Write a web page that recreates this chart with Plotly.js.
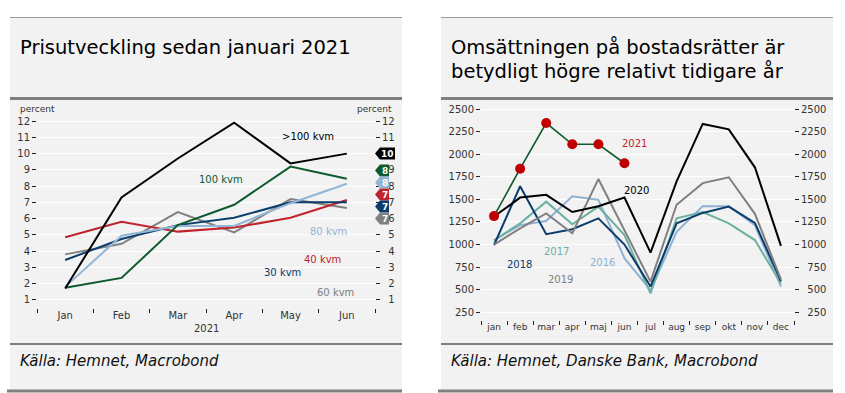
<!DOCTYPE html>
<html><head><meta charset="utf-8">
<script src="https://cdn.plot.ly/plotly-3.0.1.min.js"></script>
<style>html,body{margin:0;padding:0;background:#fff}#c{width:845px;height:393px}</style>
</head><body><div id="c"></div>
<script>
// ---- Left chart data (percent) ----
const monthsL = ['Jan','Feb','Mar','Apr','May','Jun'];
const seriesNamesL = ['>100 kvm','100 kvm','80 kvm','30 kvm','40 kvm','60 kvm'];
const gt100 = [1.7, 7.3, 9.7, 11.9, 9.4, 10.0];
const kvm100 = [1.75, 2.35, 5.6, 6.85, 9.2, 8.45];
const kvm80 = [1.8, 4.95, 5.55, 5.55, 6.95, 8.15];
const kvm30 = [3.45, 4.75, 5.6, 6.05, 7.0, 7.0];
const kvm40 = [4.85, 5.8, 5.2, 5.45, 6.05, 7.15];
const kvm60 = [3.8, 4.45, 6.4, 5.15, 7.2, 6.65];
const ticksL = [1,2,3,4,5,6,7,8,9,10,11,12];

// ---- Right chart data (number of sales) ----
const monthsR = ['jan','feb','mar','apr','maj','jun','jul','aug','sep','okt','nov','dec'];
const y2021 = [1315, 1840, 2345, 2110, 2110, 1900];
const y2020 = [1310, 1520, 1550, 1360, 1425, 1520, 910, 1700, 2335, 2275, 1855, 985];
const y2019 = [1000, 1180, 1345, 1125, 1725, 1150, 590, 1440, 1680, 1745, 1340, 615];
const y2018 = [995, 1645, 1115, 1170, 1290, 1000, 535, 1235, 1350, 1420, 1240, 595];
const y2017 = [1045, 1235, 1475, 1225, 1420, 1105, 460, 1290, 1360, 1235, 1050, 570];
const y2016 = [1050, 1215, 1260, 1535, 1495, 850, 495, 1140, 1425, 1425, 1215, 535];
const ticksR = [250,500,750,1000,1250,1500,1750,2000,2250,2500];

const W = 845, H = 393;
const X = p => p / W;
const Y = p => 1 - p / H;

const cL = {gt100:'#000000', kvm100:'#0e5a2c', kvm80:'#93b5d6', kvm30:'#0b3d6c', kvm40:'#c0232b', kvm60:'#808080'};
const cR = {y2021:'#0e5a2c', y2020:'#000000', y2019:'#808080', y2018:'#0b3d6c', y2017:'#6cb0a3', y2016:'#8fb1d4'};

const FONT = 'DejaVu Sans';
const traces = [];
function lineL(y, color, name){
  traces.push({type:'scatter', mode:'lines', x:monthsL, y:y, name:name, xaxis:'x', yaxis:'y',
    line:{color:color, width:2}, hoverinfo:'skip'});
}
lineL(kvm60, cL.kvm60, '60 kvm');
lineL(kvm40, cL.kvm40, '40 kvm');
lineL(kvm30, cL.kvm30, '30 kvm');
lineL(kvm80, cL.kvm80, '80 kvm');
lineL(kvm100, cL.kvm100, '100 kvm');
lineL(gt100, cL.gt100, '>100 kvm');

function lineR(y, color, name){
  traces.push({type:'scatter', mode:'lines', x:monthsR.slice(0, y.length), y:y, name:name, xaxis:'x3', yaxis:'y3',
    line:{color:color, width:2}, hoverinfo:'skip'});
}
lineR(y2016, cR.y2016, '2016');
lineR(y2017, cR.y2017, '2017');
lineR(y2018, cR.y2018, '2018');
lineR(y2019, cR.y2019, '2019');
lineR(y2020, cR.y2020, '2020');
traces.push({type:'scatter', mode:'lines+markers', x:monthsR.slice(0, y2021.length), y:y2021, name:'2021',
  xaxis:'x3', yaxis:'y3', line:{color:cR.y2021, width:1.6}, marker:{color:'#c00000', size:10}, hoverinfo:'skip'});

const tickFont = {family:FONT, size:10, color:'#333'};
const rangeL = [0.5, 12.5];
const rangeR = [165, 2600];

const shapes = [];
const annotations = [];
function panel(x0, x1){
  shapes.push({type:'rect', xref:'paper', yref:'paper', x0:X(x0), x1:X(x1), y0:Y(390), y1:Y(17),
    fillcolor:'#f2f2f2', line:{width:0}, layer:'below'});
  shapes.push({type:'line', xref:'paper', yref:'paper', x0:X(x0), x1:X(x1), y0:Y(17.5), y1:Y(17.5),
    line:{color:'#9a9a9a', width:1}, layer:'below'});
  shapes.push({type:'line', xref:'paper', yref:'paper', x0:X(x0), x1:X(x1), y0:Y(98.5), y1:Y(98.5),
    line:{color:'#7f7f7f', width:3}, layer:'below'});
  shapes.push({type:'line', xref:'paper', yref:'paper', x0:X(x0), x1:X(x1), y0:Y(344), y1:Y(344),
    line:{color:'#7f7f7f', width:2}, layer:'below'});
  shapes.push({type:'line', xref:'paper', yref:'paper', x0:X(x0-3), x1:X(x1), y0:Y(391), y1:Y(391),
    line:{color:'#7f7f7f', width:3}, layer:'below'});
}
panel(10, 402);
panel(441, 833);

function txt(t, px, py, color, size, opts){
  annotations.push(Object.assign({xref:'paper', yref:'paper', x:X(px), y:Y(py), text:t, showarrow:false,
    xanchor:'center', yanchor:'middle', font:{family:FONT, size:size, color:color}}, opts||{}));
}
const titleFont = {family:'DejaVu Sans', size:19.5, color:'#000'};
// Titles
txt('Prisutveckling sedan januari 2021', 18, 47, '#000', 19.5, {xanchor:'left', font:titleFont});
txt('Omsättningen på bostadsrätter är', 449, 48, '#000', 19.5, {xanchor:'left', font:titleFont});
txt('betydligt högre relativt tidigare år', 449, 71, '#000', 19.5, {xanchor:'left', font:titleFont});
// Footers
const footFont = {family:'DejaVu Sans', size:15, color:'#111'};
txt('<i>Källa: Hemnet, Macrobond</i>', 18, 361, '#111', 15, {xanchor:'left', font:footFont});
txt('<i>Källa: Hemnet, Danske Bank, Macrobond</i>', 449, 361, '#111', 15, {xanchor:'left', font:footFont});
// Axis unit labels
txt('percent', 37, 109, '#333', 9);
txt('percent', 374.5, 109, '#333', 9);
txt('2021', 206, 328, '#333', 10);
// Left series labels
txt(seriesNamesL[0], 307.5, 137, cL.gt100, 10);
txt(seriesNamesL[1], 221, 179, cL.kvm100, 10);
txt(seriesNamesL[2], 328.5, 232, cL.kvm80, 10);
txt(seriesNamesL[4], 322.5, 259, cL.kvm40, 10);
txt(seriesNamesL[3], 282, 272, cL.kvm30, 10);
txt(seriesNamesL[5], 335.5, 292, cL.kvm60, 10);
// Right series labels
txt('2021', 634, 144, '#c0232b', 10);
txt('2020', 636, 190, cR.y2020, 10);
txt('2017', 556, 251, cR.y2017, 10);
txt('2018', 519, 264, cR.y2018, 10);
txt('2016', 602.5, 262, cR.y2016, 10);
txt('2019', 560.5, 279, cR.y2019, 10);

// Last-value flags on left chart right axis (stacked to avoid overlap)
const lastVals = [
  {v: gt100[gt100.length-1], c: cL.gt100},
  {v: kvm100[kvm100.length-1], c: cL.kvm100},
  {v: kvm80[kvm80.length-1], c: cL.kvm80},
  {v: kvm40[kvm40.length-1], c: cL.kvm40},
  {v: kvm30[kvm30.length-1], c: cL.kvm30},
  {v: kvm60[kvm60.length-1], c: cL.kvm60}
].sort((a,b)=>b.v-a.v);
const gap = 0.74;
let clusters = lastVals.map(d => ({items:[d]}));
function layoutCl(cl){
  const mean = cl.items.reduce((s,d)=>s+d.v,0)/cl.items.length;
  const n = cl.items.length;
  cl.top = mean + (n-1)/2*gap;
  cl.bottom = cl.top - (n-1)*gap;
}
clusters.forEach(layoutCl);
let merged = true;
while(merged){
  merged = false;
  for(let i=0;i<clusters.length-1;i++){
    if(clusters[i].bottom - clusters[i+1].top < gap - 1e-9){
      clusters[i] = {items: clusters[i].items.concat(clusters[i+1].items)};
      clusters.splice(i+1,1);
      layoutCl(clusters[i]);
      merged = true;
      break;
    }
  }
}
const pxPerUnit = (308-113)/(rangeL[1]-rangeL[0]);
const hh = 6/pxPerUnit;
clusters.forEach(cl => {
  cl.items.forEach((d,i) => {
    const yy = cl.top - i*gap;
    const label = String(Math.round(d.v));
    const wbox = 3 + 6*label.length;
    const xa = 375, xb = 380, xc = 380 + wbox;
    shapes.push({type:'path', xref:'paper', yref:'y', layer:'above',
      path:`M ${X(xa)},${yy} L ${X(xb)},${yy+hh} L ${X(xc)},${yy+hh} L ${X(xc)},${yy-hh} L ${X(xb)},${yy-hh} Z`,
      fillcolor:d.c, line:{width:0}});
    annotations.push({xref:'paper', yref:'y', x:X((xb+xc)/2), y:yy, text:'<b>'+label+'</b>', showarrow:false,
      xanchor:'center', yanchor:'middle', font:{family:FONT, size:9, color:'#fff'}});
  });
});

// right-side tick labels are right-aligned in the reference: pad with figure spaces
function padTicks(vals){
  const n = Math.max(...vals.map(v => String(v).length));
  return vals.map(v => '\u2007'.repeat(n - String(v).length) + String(v));
}

const baseY = {showgrid:true, gridcolor:'#ffffff', gridwidth:1, zeroline:false, showline:false,
  ticks:'outside', ticklen:4, tickcolor:'#222', tickwidth:1, tickfont:tickFont, fixedrange:true};
const baseX = {type:'category', showgrid:false, zeroline:false, showline:false, ticks:'outside',
  tickson:'boundaries', ticklen:4, tickcolor:'#222', tickwidth:1, tickfont:tickFont, tickangle:0, fixedrange:true};

const layoutObj = {
  width:W, height:H, margin:{l:0,r:0,t:0,b:0}, paper_bgcolor:'#ffffff', plot_bgcolor:'rgba(0,0,0,0)',
  showlegend:false, shapes:shapes, annotations:annotations,
  xaxis: Object.assign({}, baseX, {domain:[X(37), X(375)], anchor:'y', range:[-0.5, 5.5]}),
  yaxis: Object.assign({}, baseY, {domain:[Y(308), Y(113)], anchor:'x', range:rangeL, tickvals:ticksL, side:'left'}),
  yaxis2: Object.assign({}, baseY, {overlaying:'y', anchor:'x', side:'right', range:rangeL, tickvals:ticksL,
    ticktext:padTicks(ticksL), showgrid:false}),
  xaxis3: Object.assign({}, baseX, {domain:[X(481), X(794)], anchor:'y3', range:[-0.5, 11.5],
    tickfont:{family:FONT, size:9, color:'#333'}}),
  yaxis3: Object.assign({}, baseY, {domain:[Y(320), Y(100)], anchor:'x3', range:rangeR, tickvals:ticksR, side:'left'}),
  yaxis4: Object.assign({}, baseY, {overlaying:'y3', anchor:'x3', side:'right', range:rangeR, tickvals:ticksR,
    ticktext:padTicks(ticksR), showgrid:false})
};
// invisible anchor traces so the overlaying axes render
traces.push({type:'scatter', mode:'markers', x:[monthsL[0]], y:[ticksL[0]], xaxis:'x', yaxis:'y2', marker:{opacity:0}, hoverinfo:'skip'});
traces.push({type:'scatter', mode:'markers', x:[monthsR[0]], y:[ticksR[0]], xaxis:'x3', yaxis:'y4', marker:{opacity:0}, hoverinfo:'skip'});

Plotly.newPlot('c', traces, layoutObj, {staticPlot:true, displayModeBar:false});
</script></body></html>
